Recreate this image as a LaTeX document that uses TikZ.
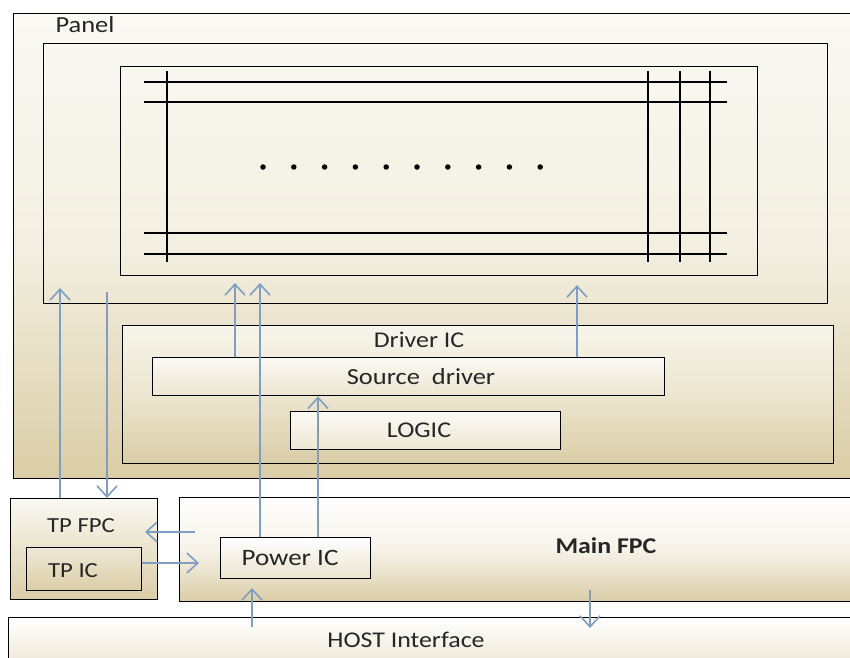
\documentclass[tikz,border=0pt]{standalone}
\usepackage{fontspec}
\setmainfont{Carlito}[FakeStretch=1.15]
\usetikzlibrary{arrows.meta}
\definecolor{paper}{RGB}{250,249,243}
\definecolor{sand}{RGB}{218,205,166}
\definecolor{wire}{RGB}{128,158,194}
\tikzset{box/.style = {draw, line width = 1.4pt, inner sep = 0, anchor = north west}}
\tikzset{tanfill/.style = {top color = paper, bottom color = sand}}
\tikzset{softfill/.style = {top color = white, bottom color = sand, middle color = sand!25!white}}
\tikzset{flow/.style = {draw = wire, line width = 1.6pt, -{Straight Barb[length = 11pt, width = 20pt]}}}
\tikzset{lbl/.style = {font = \fontsize{22.5}{26}\selectfont, text = black!85}}
\tikzset{tplbl/.style = {font = \fontsize{21.5}{24}\selectfont, text = black!85}}
\tikzset{dot/.style = {fill, circle, inner sep = 0, minimum size = 5.5}}

\begin{document}
\begin{tikzpicture}[x = 1pt, y = -1pt]
      \useasboundingbox (0, 0) rectangle (850, 657);
      \clip (0, 0) rectangle (850, 657);
      \fill [white] (0, 0) rectangle (850, 657);
      \node [box, top color = paper, bottom color = sand, middle color = sand!22!paper, minimum width = 1000, minimum height = 465] (panel) at (13, 13) {};
      \node [lbl, font = \fontsize{23}{26}\selectfont] (panellbl) at (85, 25) {Panel};
      \node [box, minimum width = 784, minimum height = 260] (screen) at (43, 43) {};
      \node [box, minimum width = 637, minimum height = 209] (cells) at (120, 66) {};
      \foreach \y in {82, 102, 233, 254}
        \draw [line width = 1.4pt] (144, \y) -- (727, \y);
      \foreach \x in {167, 648, 680, 710}
        \draw [line width = 1.4pt] (\x, 71) -- (\x, 262);
      \foreach \i in {0, ..., 9}
        \node [dot] (dot\i) at (263 + 30.8 * \i, 167) {};
      \node [box, top color = paper!90!sand, bottom color = sand, middle color = sand!45!paper, minimum width = 711, minimum height = 138] (drv) at (122, 325) {};
      \node [lbl] (drvlbl) at (419, 340) {Driver IC};
      \node [box, top color = paper, bottom color = sand!45!paper, minimum width = 512, minimum height = 38] (src) at (152, 357) {};
      \node [lbl, font = \fontsize{23}{26}\selectfont] (srclbl) at (421, 377) {Source\ \ driver};
      \node [box, top color = paper, bottom color = sand!40!paper, minimum width = 270, minimum height = 38] (logic) at (290, 411) {};
      \node [lbl] (logiclbl) at (419, 430) {LOGIC};
      \node [box, tanfill, minimum width = 147, minimum height = 101] (tpfpc) at (10, 498) {};
      \node [tplbl] (tpfpclbl) at (81, 526) {TP FPC};
      \node [box, top color = sand!45!white, bottom color = sand, minimum width = 115, minimum height = 43] (tpic) at (26, 547) {};
      \node [tplbl] (tpiclbl) at (73, 571) {TP IC};
      \node [box, softfill, minimum width = 1000, minimum height = 104] (mainfpc) at (179, 497) {};
      \node [lbl, font = \fontsize{22.5}{26}\selectfont\bfseries] (mainlbl) at (606, 546) {Main FPC};
      \node [box, top color = white, bottom color = sand!55!white, minimum width = 150, minimum height = 41] (pwr) at (220, 537) {};
      \node [lbl, font = \fontsize{23.5}{26}\selectfont] (pwrlbl) at (290, 558) {Power IC};
      \node [box, top color = white, bottom color = sand, minimum width = 1000, minimum height = 100] (host) at (8, 617) {};
      \node [lbl] (hostlbl) at (406, 640) {HOST Interface};
      \coordinate (tpin) at (60, 288);
      \coordinate (tpout) at (107, 292);
      \coordinate (gatein) at (235, 283);
      \coordinate (pwrout) at (260, 283);
      \coordinate (srcin) at (318, 0);
      \coordinate (datain) at (577, 285);
      \coordinate (touchout) at (195, 532);
      \coordinate (touchin) at (145, 532);
      \coordinate (pwrin) at (199, 563);
      \coordinate (hostin) at (252, 627);
      \coordinate (hostup) at (252, 588);
      \coordinate (hostdown) at (590, 590);
      \coordinate (hostend) at (590, 628);
      \draw [flow] (tpin |- tpfpc.north) -- (tpin);
      \draw [flow] (tpout) -- (tpout |- tpfpc.north);
      \draw [flow] (gatein |- src.north) -- (gatein);
      \draw [flow] (pwrout |- pwr.north) -- (pwrout);
      \draw [flow] (srcin |- pwr.north) -- (srcin |- src.south);
      \draw [flow] (datain |- src.north) -- (datain);
      \draw [flow] (touchout) -- (touchin);
      \draw [flow] (tpic.east |- pwrin) -- (pwrin);
      \draw [flow] (hostin) -- (hostup);
      \draw [flow] (hostdown) -- (hostend);
\end{tikzpicture}
\end{document}
